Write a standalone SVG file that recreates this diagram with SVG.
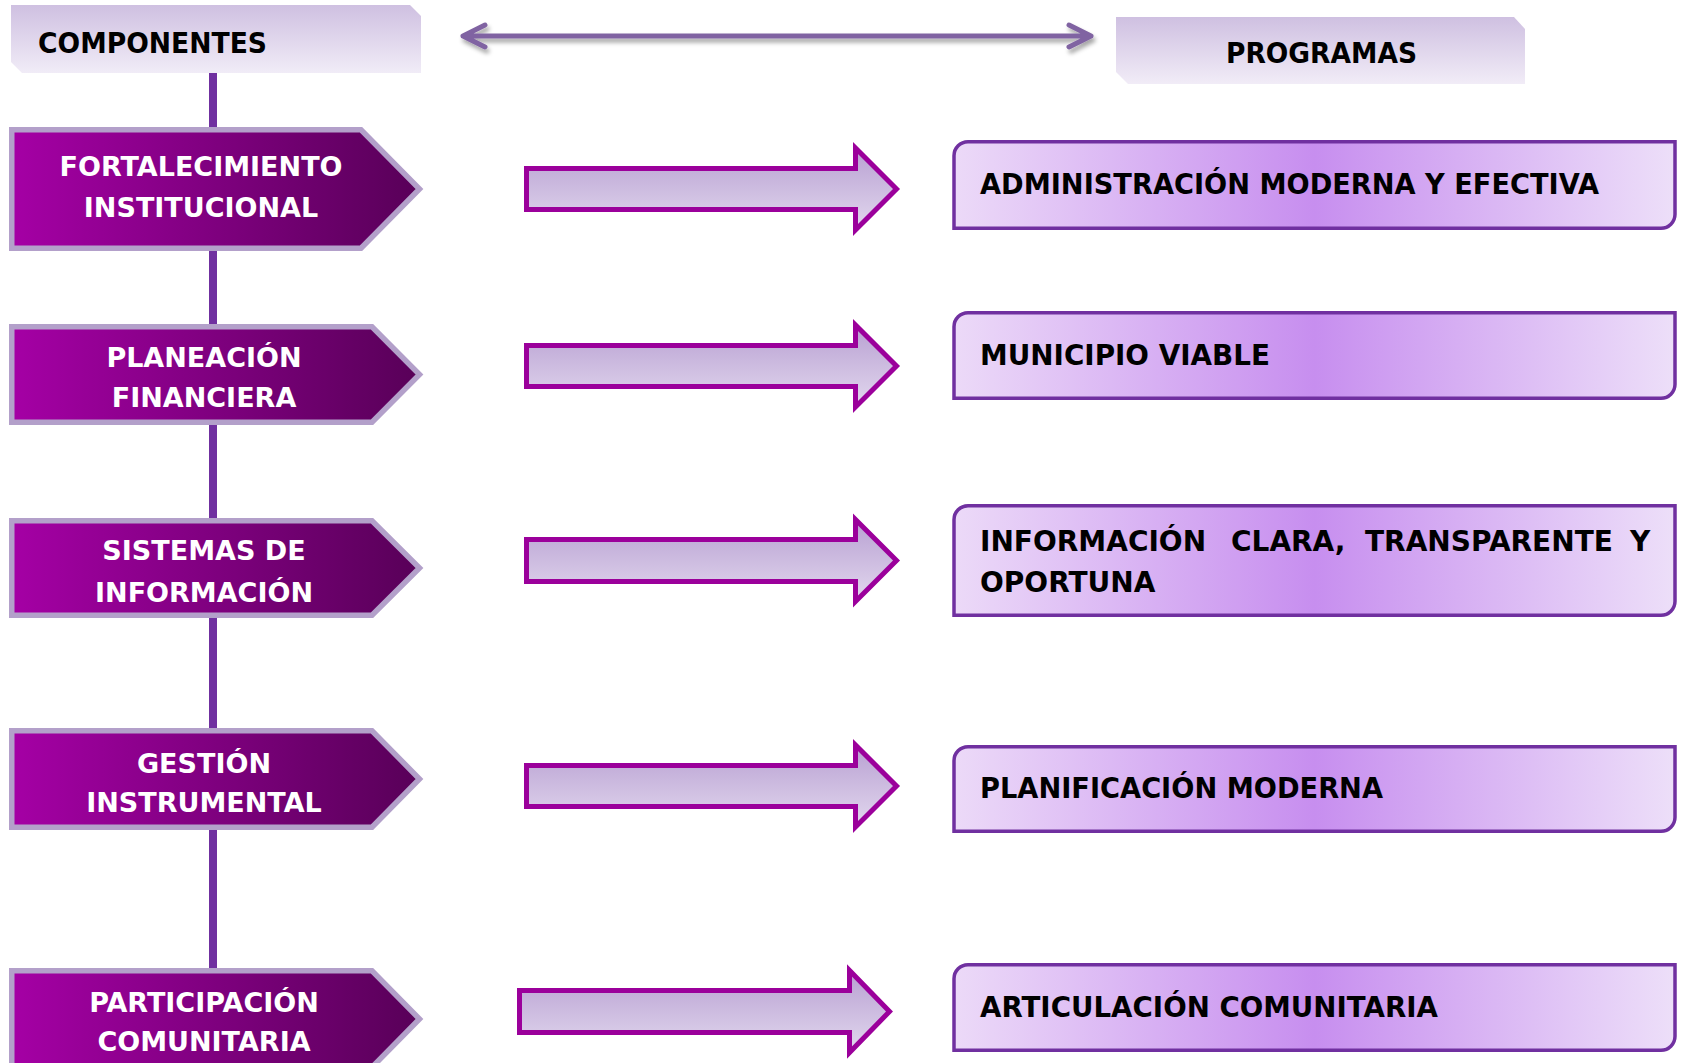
<svg xmlns="http://www.w3.org/2000/svg" width="1683" height="1063" viewBox="0 0 1683 1063">
  <defs>
    <linearGradient id="hdrGrad" x1="0" y1="0" x2="0" y2="1">
      <stop offset="0" stop-color="#cfc0e1"/>
      <stop offset="1" stop-color="#f1ecf7"/>
    </linearGradient>
    <linearGradient id="chevGrad" x1="0" y1="0" x2="1" y2="0">
      <stop offset="0" stop-color="#a500a5"/>
      <stop offset="1" stop-color="#580058"/>
    </linearGradient>
    <linearGradient id="arrGrad" x1="0" y1="0" x2="0" y2="1">
      <stop offset="0" stop-color="#b8a0d2"/>
      <stop offset="1" stop-color="#e2d8ee"/>
    </linearGradient>
    <linearGradient id="boxGrad" x1="0" y1="0" x2="1" y2="0">
      <stop offset="0" stop-color="#ecdaf8"/>
      <stop offset="0.5" stop-color="#c78eef"/>
      <stop offset="1" stop-color="#eddff9"/>
    </linearGradient>
    <filter id="shadow" x="-5%" y="-100%" width="110%" height="300%">
      <feDropShadow dx="2" dy="4" stdDeviation="2" flood-color="#000" flood-opacity="0.35"/>
    </filter>
  </defs>
  <style>
    .hdr { fill: url(#hdrGrad); }
    .hdrText { font-family: "DejaVu Sans", Verdana, sans-serif; font-weight: bold; font-size: 29px; fill: #000; }
    .chev { fill: url(#chevGrad); stroke: #b3a0ca; stroke-width: 5.5; stroke-linejoin: miter; }
    .chevText { font-family: "DejaVu Sans", Verdana, sans-serif; font-weight: bold; font-size: 27px; fill: #fff; text-anchor: middle; }
    .blk { fill: url(#arrGrad); stroke: #9b009b; stroke-width: 5; stroke-linejoin: miter; }
    .box { fill: url(#boxGrad); stroke: #7030a0; stroke-width: 3.5; }
    .boxText { font-family: "DejaVu Sans", Tahoma, sans-serif; font-weight: bold; font-size: 28px; fill: #000; }
    .spine { fill: none; stroke: #7030a0; stroke-width: 8; }
    .dbl { fill: none; stroke: #8064a2; stroke-width: 5; stroke-linecap: round; stroke-linejoin: round; }
  </style>

  <rect width="1683" height="1063" fill="#fff"/>

  <g id="connectors">
    <line class="spine" x1="213" y1="73" x2="213" y2="1063"/>
    <g filter="url(#shadow)">
      <path class="dbl" d="M463,36 H1091 M485,25 L463,36 L485,47 M1069,25 L1091,36 L1069,47"/>
    </g>
    <path class="blk" d="M526.5,168.5 H855.5 V148 L896.5,189 L855.5,230 V209.5 H526.5 Z"/>
    <path class="blk" d="M526.5,345.5 H855.5 V325 L896.5,366 L855.5,407 V386.5 H526.5 Z"/>
    <path class="blk" d="M526.5,539.5 H855.5 V519.5 L896.5,560.5 L855.5,601.5 V581.5 H526.5 Z"/>
    <path class="blk" d="M526.5,765.5 H855.5 V745 L896.5,786 L855.5,827 V806.5 H526.5 Z"/>
    <path class="blk" d="M519.5,990.5 H849.5 V970.5 L889.5,1011.5 L849.5,1052.5 V1032.5 H519.5 Z"/>
  </g>

  <g id="hdr-componentes">
    <polygon class="hdr" points="11,5 410,5 421,16 421,73 22,73 11,62"/>
    <text class="hdrText" x="38" y="53" textLength="229" lengthAdjust="spacingAndGlyphs">COMPONENTES</text>
  </g>
  <g id="hdr-programas">
    <polygon class="hdr" points="1116,17 1514,17 1525,29 1525,84 1128,84 1116,72"/>
    <text class="hdrText" x="1226" y="63" textLength="191" lengthAdjust="spacingAndGlyphs">PROGRAMAS</text>
  </g>

  <g id="comp-fortalecimiento">
    <path class="chev" d="M11.75,129.75 H361 L419.5,189 L361,248.25 H11.75 Z"/>
    <text class="chevText" x="201" y="176">FORTALECIMIENTO</text>
    <text class="chevText" x="201" y="217">INSTITUCIONAL</text>
  </g>
  <g id="comp-planeacion">
    <path class="chev" d="M11.75,326.75 H372 L419.5,374.5 L372,422.25 H11.75 Z"/>
    <text class="chevText" x="204" y="367">PLANEACIÓN</text>
    <text class="chevText" x="204" y="407">FINANCIERA</text>
  </g>
  <g id="comp-sistemas">
    <path class="chev" d="M11.75,520.75 H372 L419.5,568 L372,615.25 H11.75 Z"/>
    <text class="chevText" x="204" y="560">SISTEMAS DE</text>
    <text class="chevText" x="204" y="602">INFORMACIÓN</text>
  </g>
  <g id="comp-gestion">
    <path class="chev" d="M11.75,730.75 H372 L419.5,779 L372,827.25 H11.75 Z"/>
    <text class="chevText" x="204" y="773">GESTIÓN</text>
    <text class="chevText" x="204" y="812">INSTRUMENTAL</text>
  </g>
  <g id="comp-participacion">
    <path class="chev" d="M11.75,970.75 H372 L419.5,1019 L372,1067.25 H11.75 Z"/>
    <text class="chevText" x="204" y="1012">PARTICIPACIÓN</text>
    <text class="chevText" x="204" y="1051">COMUNITARIA</text>
  </g>

  <g id="prog-administracion">
    <path class="box" d="M954,155.75 A14,14 0 0 1 968,141.75 H1675 V214.25 A14,14 0 0 1 1661,228.25 H954 Z"/>
    <text class="boxText" x="980" y="194" textLength="619" lengthAdjust="spacingAndGlyphs">ADMINISTRACIÓN MODERNA Y EFECTIVA</text>
  </g>
  <g id="prog-municipio">
    <path class="box" d="M954,326.75 A14,14 0 0 1 968,312.75 H1675 V384.25 A14,14 0 0 1 1661,398.25 H954 Z"/>
    <text class="boxText" x="980" y="365" textLength="290" lengthAdjust="spacingAndGlyphs">MUNICIPIO VIABLE</text>
  </g>
  <g id="prog-informacion">
    <path class="box" d="M954,519.75 A14,14 0 0 1 968,505.75 H1675 V601.25 A14,14 0 0 1 1661,615.25 H954 Z"/>
    <text class="boxText" y="551"><tspan x="980">INFORMACIÓN</tspan> <tspan x="1231">CLARA,</tspan> <tspan x="1365">TRANSPARENTE</tspan> <tspan x="1630">Y</tspan></text>
    <text class="boxText" x="980" y="592">OPORTUNA</text>
  </g>
  <g id="prog-planificacion">
    <path class="box" d="M954,760.75 A14,14 0 0 1 968,746.75 H1675 V817.25 A14,14 0 0 1 1661,831.25 H954 Z"/>
    <text class="boxText" x="980" y="798" textLength="403" lengthAdjust="spacingAndGlyphs">PLANIFICACIÓN MODERNA</text>
  </g>
  <g id="prog-articulacion">
    <path class="box" d="M954,978.75 A14,14 0 0 1 968,964.75 H1675 V1036.25 A14,14 0 0 1 1661,1050.25 H954 Z"/>
    <text class="boxText" x="980" y="1017" textLength="458" lengthAdjust="spacingAndGlyphs">ARTICULACIÓN COMUNITARIA</text>
  </g>
</svg>
